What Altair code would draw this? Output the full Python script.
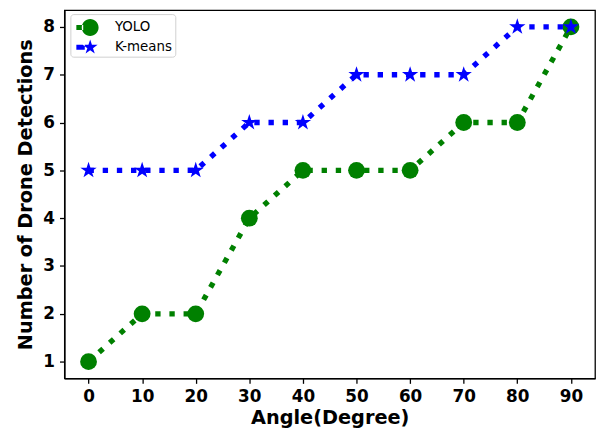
import math
import altair as alt
import pandas as pd

angles = [0, 10, 20, 30, 40, 50, 60, 70, 80, 90]
yolo = [1, 2, 2, 4, 5, 5, 5, 6, 6, 8]
kmeans = [5, 5, 5, 6, 6, 7, 7, 7, 8, 8]
series_names = ["YOLO", "K-means"]
series_colors = ["#008000", "#0000ff"]
x_ticks = [0, 10, 20, 30, 40, 50, 60, 70, 80, 90]
y_ticks = [1, 2, 3, 4, 5, 6, 7, 8]

df = pd.DataFrame({
    "angle": angles * 2,
    "count": yolo + kmeans,
    "series": ["YOLO"] * len(angles) + ["K-means"] * len(angles),
})


def star_path(cx, r):
    pts = []
    for i in range(10):
        rr = r if i % 2 == 0 else r * 0.381966
        a = math.pi / 2 + i * math.pi / 5
        pts.append((cx + rr * math.cos(a), -rr * math.sin(a)))
    return "M" + "L".join(f"{x:.4f},{y:.4f}" for x, y in pts) + "Z"


STAR = star_path(0, 1.0)
# legend handles: short dotted-line stub + marker
LEG_YOLO = ("M-0.71,-0.24L-0.05,-0.24L-0.05,0.24L-0.71,0.24Z "
            "M-0.19,0A0.81,0.81 0 1,0 1.43,0A0.81,0.81 0 1,0 -0.19,0Z")
LEG_KM = "M-0.71,-0.24L0.1,-0.24L0.1,0.24L-0.71,0.24Z " + star_path(0.62, 0.75)

xs = alt.Scale(domain=[-4.5, 94.5], nice=False, zero=False)
ys = alt.Scale(domain=[0.65, 8.35], nice=False, zero=False)
X = alt.X("angle:Q", scale=xs, axis=alt.Axis(values=x_ticks, title="Angle(Degree)"))
Y = alt.Y("count:Q", scale=ys, axis=alt.Axis(values=y_ticks, title="Number of Drone Detections"))

base = alt.Chart(df)
layers = []
for name, col, shape, size in [("YOLO", series_colors[0], "circle", 289),
                               ("K-means", series_colors[1], STAR, 300)]:
    sub = base.transform_filter(alt.datum.series == name)
    layers.append(sub.mark_line(color=col, strokeWidth=5.4, strokeDash=[5.4, 8.9],
                                strokeCap="butt").encode(x=X, y=Y))
    layers.append(sub.mark_point(filled=True, color=col, opacity=1, shape=shape,
                                 size=size, strokeWidth=0).encode(x=X, y=Y))

legend_layer = base.transform_filter("datum.angle < -100").mark_point(
    filled=True, opacity=1, strokeWidth=0
).encode(
    x=X, y=Y,
    color=alt.Color("series:N", scale=alt.Scale(domain=series_names, range=series_colors),
                    sort=None, legend=alt.Legend(title=None)),
    shape=alt.Shape("series:N", scale=alt.Scale(domain=series_names, range=[LEG_YOLO, LEG_KM]),
                    sort=None, legend=alt.Legend(title=None)),
)

chart = alt.layer(*layers, legend_layer).properties(
    width=536, height=372,
    padding={"left": 57, "top": 0, "right": 2, "bottom": 53},
    autosize=alt.AutoSizeParams(type="none"),
).configure_view(
    stroke="black", strokeWidth=1.3
).configure_axis(
    grid=False,
    labelFont="DejaVu Sans", labelFontWeight="bold", labelFontSize=17, labelColor="black",
    titleFont="DejaVu Sans", titleFontWeight="bold", titleFontSize=19.5, titleColor="black",
    domainColor="black", domainWidth=1.3, tickColor="black", tickWidth=1.3, tickSize=5,
    labelPadding=5,
).configure_axisX(titlePadding=5).configure_axisY(titlePadding=7).configure_legend(
    orient="none", legendX=6, legendY=4,
    fillColor="white", strokeColor="#d0d0d0", cornerRadius=3, padding=3,
    labelFont="DejaVu Sans", labelFontSize=13.5, labelColor="black",
    symbolSize=441, symbolStrokeWidth=0, labelOffset=21, rowPadding=0,
)

chart.save("out.html", embed_options={"renderer": "svg", "actions": False})
